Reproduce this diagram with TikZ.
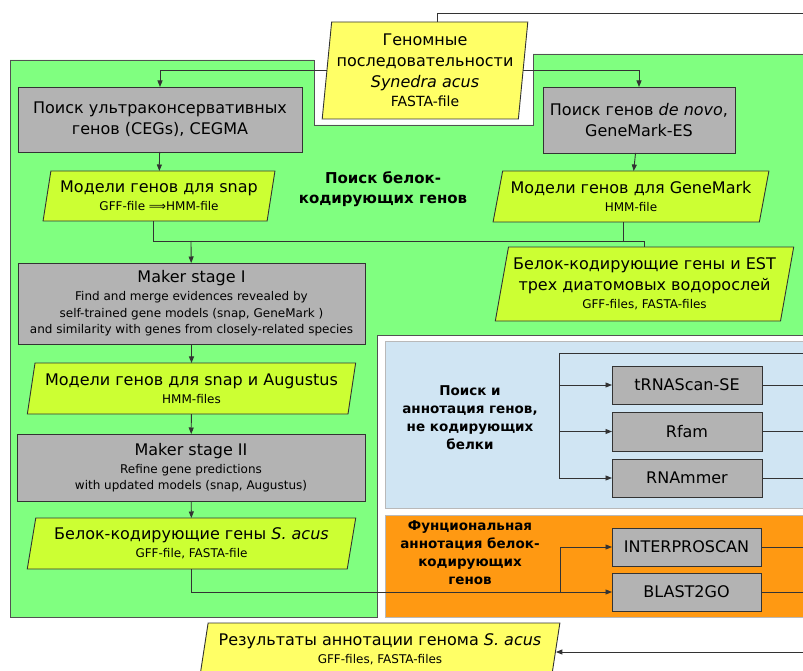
\documentclass[tikz,border=0pt]{standalone}
\usepackage{fontspec}
\setmainfont{DejaVu Sans}
\usetikzlibrary{shapes.geometric,arrows.meta,calc}
\definecolor{regG}{HTML}{80FF80}
\definecolor{boxG}{HTML}{B3B3B3}
\definecolor{yel}{HTML}{FFFF66}
\definecolor{limeY}{HTML}{CCFF33}
\definecolor{lblue}{HTML}{D0E5F3}
\definecolor{orng}{HTML}{FF9912}
\definecolor{ln}{HTML}{333333}
\newcommand\smtxt{\fontsize{12}{15}\selectfont}
\begin{document}
\begin{tikzpicture}[x=1pt,y=-1pt,
  every node/.style={inner sep=0pt, outer sep=0pt},
  graybox/.style 2 args={rectangle, draw=ln, fill=boxG, line width=0.9pt, align=center,
     font=\fontsize{16}{21}\selectfont, minimum width=#1, minimum height=#2},
  para/.style n args={5}{trapezium, trapezium left angle=#3, trapezium right angle=#4,
     trapezium stretches=true, draw=ln, fill=#5, line width=0.9pt, align=center,
     font=\fontsize{16}{21}\selectfont, minimum width=#1, minimum height=#2},
  lbl/.style={align=center, font=\bfseries\fontsize{13.5}{18}\selectfont},
  conn/.style={draw=ln, line width=0.9pt},
  arr/.style={conn, -{Triangle[length=6.5pt,width=5pt]}}
]
\clip (0,0) rectangle (803,671);
\fill[white] (0,0) rectangle (803,671);
% regions
\draw[draw=ln!85, fill=regG, line width=0.9pt] (10,60) -- (314,60) -- (314,125) -- (533,125) -- (533,54)
  -- (815,54) -- (815,335) -- (377,335) -- (377,617) -- (10,617) -- cycle;
\draw[draw=gray!55, fill=lblue, line width=0.9pt] (385,341) rectangle (815,508);
\draw[draw=gray!55, fill=orng, line width=0.9pt] (385,515) rectangle (815,617);

% nodes
\node[para={206}{97}{83}{97}{yel}] (genome) at (425,70.5)
  {Геномные\\последовательности\\\textit{Synedra acus}\\[-2pt]{\fontsize{14}{17}\selectfont FASTA-file}};
\node[graybox={284}{65}] (cegma) at (160,119.5) {Поиск ультраконсервативных\\генов (CEGs), CEGMA};
\node[graybox={192}{66}] (gmes) at (639,120) {Поиск генов \textit{de novo},\\GeneMark-ES};
\node[para={232}{50}{76.5}{103.5}{limeY}] (snap) at (159,196)
  {Модели генов для snap\\[-3pt]{\smtxt GFF-file ⟹HMM-file}};
\node[para={276}{51}{73.5}{106.5}{limeY}] (gmm) at (631,196.5)
  {Модели генов для GeneMark\\[-3pt]{\smtxt HMM-file}};
\node[para={299}{74}{76.3}{103.7}{limeY}] (est) at (644.5,284)
  {Белок-кодирующие гены и EST\\трех диатомовых водорослей\\[-3pt]{\smtxt GFF-files, FASTA-files}};
\node[lbl, font=\bfseries\fontsize{15}{20}\selectfont] (pcg) at (383,189) {Поиск белок-\\кодирующих генов};

\node[graybox={347}{81}, font=\fontsize{12}{16.5}\selectfont] (maker1) at (191.5,303.5)
  {{\fontsize{16}{21}\selectfont Maker stage I}\\[1.5pt]Find and merge evidences revealed by\\self-trained gene models (snap, GeneMark )\\and similarity with genes from closely-related species};
\node[para={329}{51}{76.5}{103.5}{limeY}] (sa) at (191.5,388.5)
  {Модели генов для snap и Augustus\\[-3pt]{\smtxt HMM-files}};
\node[graybox={348}{67}, font=\fontsize{12}{16.5}\selectfont] (maker2) at (191,467.5)
  {{\fontsize{16}{21}\selectfont Maker stage II}\\[1.5pt]Refine gene predictions\\with updated models (snap, Augustus)};
\node[para={329}{51}{76.5}{103.5}{limeY}] (sacus) at (191.5,543.5)
  {Белок-кодирующие гены \textit{S. acus}\\[-3pt]{\smtxt GFF-file, FASTA-file}};

\node[lbl] (nc) at (470,418) {Поиск и\\аннотация генов,\\не кодирующих\\белки};
\node[graybox={150}{38}] (trna) at (687,385) {tRNAScan-SE};
\node[graybox={150}{39}] (rfam) at (687,431.5) {Rfam};
\node[graybox={150}{38}] (rnammer) at (687,478) {RNAmmer};

\node[lbl] (fa) at (470,553) {Фунциональная\\аннотация белок-\\кодирующих\\генов};
\node[graybox={149}{38}] (ipr) at (686.5,547) {INTERPROSCAN};
\node[graybox={149}{38}] (b2g) at (686.5,592) {BLAST2GO};

\node[para={360}{52}{76.5}{103.5}{yel}] (results) at (380,649)
  {Результаты аннотации генома \textit{S. acus}\\[-3pt]{\smtxt GFF-files, FASTA-files}};

% coordinates
\coordinate (topR) at (815,13);
\coordinate (busM) at (191,241);
\coordinate (br) at (560,592);
\coordinate (ncIn) at (815,353);
\coordinate (ncBus) at (559,353);
\coordinate (outR) at (815,0);
\coordinate (resIn) at (815,652);

% connectors
\draw[arr] (genome.west) -| (cegma.north);
\draw[arr] (genome.east) -| (gmes.north);
\draw[conn] ([xshift=12pt]genome.north) |- (topR);
\draw[arr] (cegma) -- (snap);
\draw[arr] (gmes) -- (gmm);
\draw[conn] ([xshift=-6pt]snap.south) |- ($(est.north)+(0,-6)$) -- (est.north);
\draw[conn] ([xshift=-8pt]gmm.south) -- ++(0,19);
\draw[arr] (busM) -- (maker1);
\draw[arr] (maker1) -- (sa);
\draw[arr] (sa) -- (maker2);
\draw[arr] (maker2) -- (sacus);
\draw[arr] (sacus.south) |- (b2g.west);
\draw[arr] (br) |- (ipr.west);
\draw[conn] (ncIn) -- (ncBus);
\draw[arr] (ncBus) |- (rnammer.west);
\draw[arr] (ncBus |- trna.west) -- (trna.west);
\draw[arr] (ncBus |- rfam.west) -- (rfam.west);
\draw[conn] (trna.east) -- (trna.east -| outR);
\draw[conn] (rfam.east) -- (rfam.east -| outR);
\draw[conn] (rnammer.east) -- (rnammer.east -| outR);
\draw[conn] (ipr.east) -- (ipr.east -| outR);
\draw[conn] (b2g.east) -- (b2g.east -| outR);
\draw[arr] (resIn) -- (resIn -| results.east);
\end{tikzpicture}
\end{document}
